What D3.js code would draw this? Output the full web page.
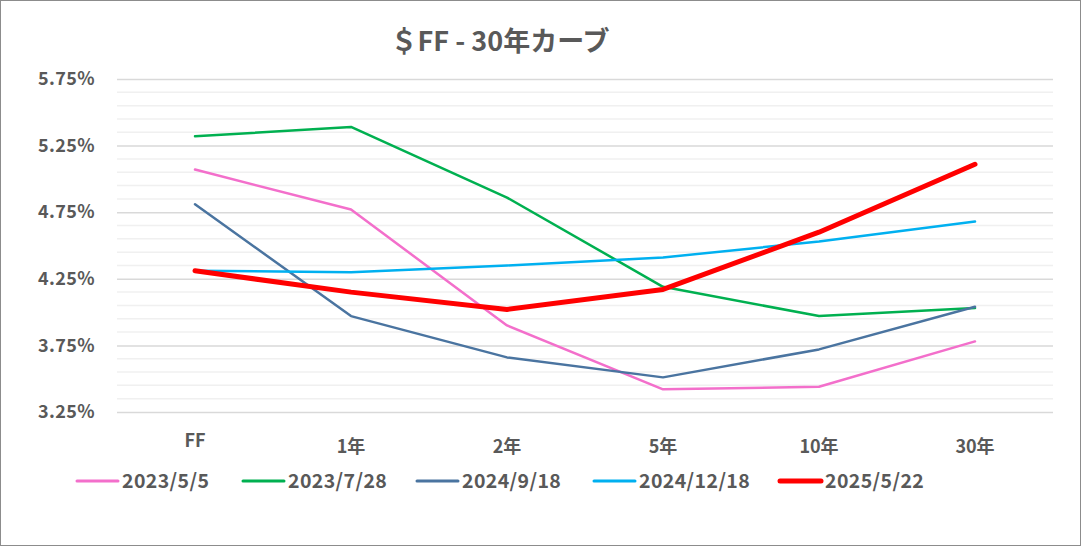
<!DOCTYPE html>
<html>
<head>
<meta charset="utf-8">
<script src="https://cdn.jsdelivr.net/npm/d3@7"></script>
<style>
  html, body { margin: 0; padding: 0; background: #fff; }
  svg text { font-family: "Noto Sans CJK JP", "Noto Sans", sans-serif; fill: #595959; }
</style>
</head>
<body>
<svg id="chart" width="1081" height="546"></svg>
<script>
// categories (tenor)
const tenors = ['FF', '1年', '2年', '5年', '10年', '30年'];

// series names, colours
const seriesNames = ['2023/5/5', '2023/7/28', '2024/9/18', '2024/12/18', '2025/5/22'];
const seriesColors = ['#F36FCB', '#00B050', '#4A74A0', '#00B0F0', '#FF0000'];

// yields in %
const y20230505 = [5.07, 4.77, 3.90, 3.42, 3.44, 3.78];
const y20230728 = [5.32, 5.39, 4.86, 4.19, 3.97, 4.03];
const y20240918 = [4.81, 3.97, 3.66, 3.51, 3.72, 4.04];
const y20241218 = [4.31, 4.30, 4.35, 4.41, 4.53, 4.68];
const y20250522 = [4.31, 4.15, 4.02, 4.17, 4.60, 5.11];

const yTicks = [3.25, 3.75, 4.25, 4.75, 5.25, 5.75];

const title = '＄FF - 30年カーブ';

const seriesValues = [y20230505, y20230728, y20240918, y20241218, y20250522];

const W = 1081, H = 546;
const margin = {left: 117, right: 28, top: 79, bottom: 134};

const svg = d3.select('#chart');

// outer frame
svg.append('rect')
  .attr('x', 0.5).attr('y', 0.5)
  .attr('width', W - 1).attr('height', H - 1)
  .attr('fill', '#fff').attr('stroke', '#8c8c8c').attr('stroke-width', 1);

let x = d3.scaleBand()
  .domain(tenors)
  .range([margin.left, W - margin.right]);

let y = d3.scaleLinear()
  .domain([3.25, 5.75])
  .range([H - margin.bottom, margin.top]);

// minor gridlines every 0.1
let minor = d3.range(0, 26).map(i => 3.25 + i * 0.1).filter(v => yTicks.every(t => Math.abs(t - v) > 1e-6));
svg.append('g').selectAll('line').data(minor).join('line')
  .attr('x1', margin.left).attr('x2', W - margin.right)
  .attr('y1', d => y(d)).attr('y2', d => y(d))
  .attr('stroke', '#f0f0f0').attr('stroke-width', 1.5);

// major gridlines + labels via axis
let yAxis = d3.axisLeft(y)
  .tickValues(yTicks)
  .tickSize(-(W - margin.left - margin.right))
  .tickPadding(22)
  .tickFormat(d => d.toFixed(2) + '%');

let gy = svg.append('g')
  .attr('transform', `translate(${margin.left},0)`)
  .call(yAxis);
gy.select('.domain').remove();
gy.selectAll('.tick line').attr('stroke', '#d9d9d9').attr('stroke-width', 1.5);
gy.selectAll('.tick text')
  .attr('font-size', 18).attr('font-weight', 'bold')
  .attr('letter-spacing', 0.4)
  .style('font-family', '"Noto Sans CJK JP", "Noto Sans", sans-serif')
  .attr('fill', '#595959');

// x axis labels
let xAxis = d3.axisBottom(x).tickSize(0).tickPadding(0);
let gx = svg.append('g')
  .attr('transform', `translate(0,${H - margin.bottom})`)
  .call(xAxis);
gx.select('.domain').remove();
gx.selectAll('.tick text')
  .attr('y', d => d === 'FF' ? 22 : 28)
  .attr('dy', '0.71em')
  .attr('font-size', 18).attr('font-weight', 'bold')
  .style('font-family', '"Noto Sans CJK JP", "Noto Sans", sans-serif')
  .attr('fill', '#595959');

// lines
let line = d3.line()
  .x((d, i) => x(tenors[i]) + x.bandwidth() / 2)
  .y(d => y(d));

svg.append('g').selectAll('path').data(seriesValues).join('path')
  .attr('d', d => line(d))
  .attr('fill', 'none')
  .attr('stroke', (d, i) => seriesColors[i])
  .attr('stroke-width', (d, i) => i === 4 ? 5 : 2.5)
  .attr('stroke-linejoin', 'round')
  .attr('stroke-linecap', 'round');

// title
svg.append('text')
  .attr('x', 500).attr('y', 51)
  .attr('text-anchor', 'middle')
  .attr('font-size', 27).attr('font-weight', 'bold')
  .text(title);

// legend
const legendX = [77, 243, 417, 594, 780];
let lg = svg.append('g').selectAll('g').data(seriesNames).join('g')
  .attr('transform', (d, i) => `translate(${legendX[i]},481)`);
lg.append('line')
  .attr('x1', 0).attr('x2', 41)
  .attr('stroke', (d, i) => seriesColors[i])
  .attr('stroke-width', (d, i) => i === 4 ? 5 : 3)
  .attr('stroke-linecap', 'round');
lg.append('text')
  .attr('x', 45).attr('dy', '0.35em')
  .attr('font-size', 19.5).attr('font-weight', 'bold')
  .attr('letter-spacing', 0.4)
  .text(d => d);
</script>
</body>
</html>
